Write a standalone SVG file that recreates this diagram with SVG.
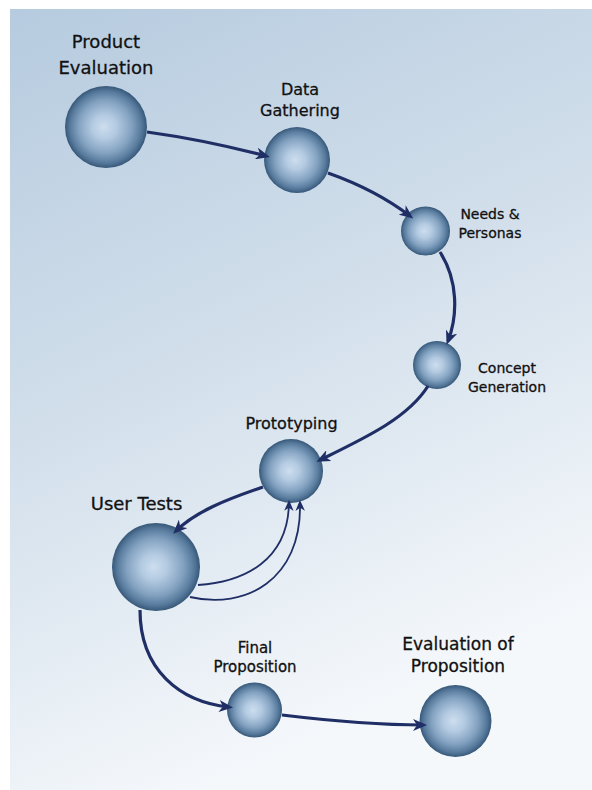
<svg xmlns="http://www.w3.org/2000/svg" width="592" height="790" viewBox="0 0 592 790">
  <defs>
    <linearGradient id="bg" x1="0" y1="0" x2="0.35" y2="1">
      <stop offset="0" stop-color="#b6cbdf"/>
      <stop offset="0.5" stop-color="#d2dfeb"/>
      <stop offset="1" stop-color="#f5f8fb"/>
    </linearGradient>
    <radialGradient id="sphere" cx="0.5" cy="0.5" r="0.5" fx="0.47" fy="0.5">
      <stop offset="0" stop-color="#cddeef"/>
      <stop offset="0.3" stop-color="#b3cae1"/>
      <stop offset="0.65" stop-color="#82a1c0"/>
      <stop offset="0.88" stop-color="#55789a"/>
      <stop offset="1" stop-color="#365778"/>
    </radialGradient>
    <marker id="arrow" viewBox="0 0 14 12" markerWidth="14" markerHeight="12" refX="10" refY="6" orient="auto" markerUnits="userSpaceOnUse">
      <path d="M0,0 L14,6 L0,12 L4,6 z" fill="#1f2f66"/>
    </marker>
    <marker id="arrow-thin" viewBox="0 0 14 12" markerWidth="11" markerHeight="9.5" refX="10" refY="6" orient="auto" markerUnits="userSpaceOnUse">
      <path d="M0,0 L14,6 L0,12 L4,6 z" fill="#1f2f66"/>
    </marker>
  </defs>
  <style>
    .node circle { fill: url(#sphere); }
    .lbl { font-family: "DejaVu Sans", "Liberation Sans", sans-serif; fill: #111; stroke: #111; stroke-width: 0.3; text-anchor: middle; }
    .big { font-size: 18px; }
    .mid { font-size: 16px; }
    .sm { font-size: 14px; }
    .link { fill: none; stroke: #1f2f66; stroke-width: 3.2; marker-end: url(#arrow); }
    .link.thin { stroke-width: 1.8; marker-end: url(#arrow-thin); }
  </style>

  <rect x="0" y="0" width="592" height="790" fill="#ffffff"/>
  <rect x="10" y="9" width="582" height="781" fill="url(#bg)"/>

  <g id="product-evaluation" class="node">
    <circle cx="106" cy="127" r="41"/>
    <text class="lbl big" x="106" y="48">Product</text>
    <text class="lbl big" x="106" y="74">Evaluation</text>
  </g>

  <g id="data-gathering" class="node">
    <circle cx="297" cy="160" r="33"/>
    <text class="lbl mid" x="300" y="95">Data</text>
    <text class="lbl mid" x="300" y="116">Gathering</text>
  </g>

  <g id="needs-personas" class="node">
    <circle cx="425.5" cy="231" r="24.5"/>
    <text class="lbl sm" x="490" y="219">Needs &amp;</text>
    <text class="lbl sm" x="490" y="238">Personas</text>
  </g>

  <g id="concept-generation" class="node">
    <circle cx="437" cy="365" r="24"/>
    <text class="lbl sm" x="507" y="373">Concept</text>
    <text class="lbl sm" x="507" y="392">Generation</text>
  </g>

  <g id="prototyping" class="node">
    <circle cx="291" cy="471" r="32"/>
    <text class="lbl mid" x="291.5" y="429">Prototyping</text>
  </g>

  <g id="user-tests" class="node">
    <circle cx="156" cy="567" r="44"/>
    <text class="lbl big" x="136.5" y="510">User Tests</text>
  </g>

  <g id="final-proposition" class="node">
    <circle cx="254.5" cy="710" r="27.5"/>
    <text class="lbl" font-size="15" x="255" y="653">Final</text>
    <text class="lbl" font-size="15" x="255" y="672">Proposition</text>
  </g>

  <g id="evaluation-of-proposition" class="node">
    <circle cx="455.5" cy="721" r="36"/>
    <text class="lbl" font-size="17" x="458" y="650">Evaluation of</text>
    <text class="lbl" font-size="17" x="458" y="672">Proposition</text>
  </g>

  <g id="connectors">
    <path class="link" d="M147,132 Q205,140 266,156"/>
    <path class="link" d="M328,173 Q376,190 410,216"/>
    <path class="link" d="M440,252 C458,280 458,315 448,341"/>
    <path class="link" d="M428,386 C408,418 365,438 320,460"/>
    <path class="link" d="M263,487 C225,500 195,512 176,531"/>
    <path class="link thin" d="M198,585 C245,582 288,560 289,503"/>
    <path class="link thin" d="M190,597 C245,610 302,580 300,503"/>
    <path class="link" d="M140,610 C140,670 180,702 229,707"/>
    <path class="link" d="M282,715 C340,722 380,725 423,725"/>
  </g>
</svg>
